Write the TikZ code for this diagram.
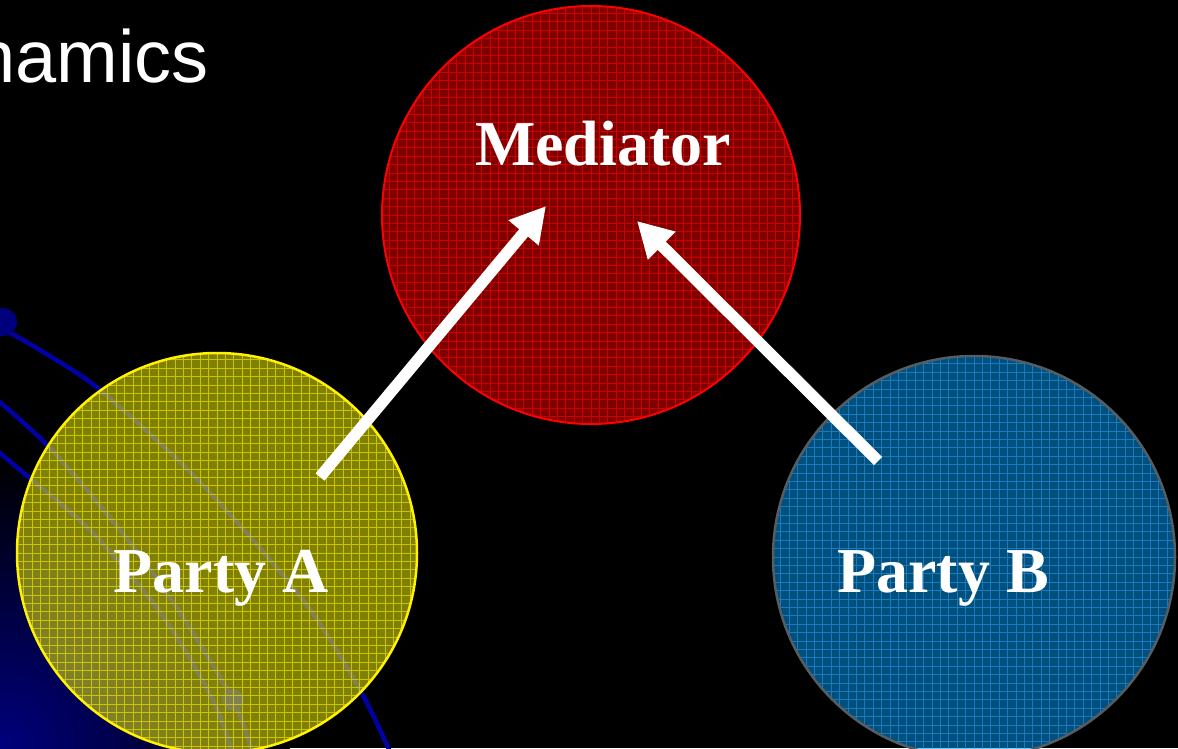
\documentclass[tikz,border=0pt]{standalone}
\usepackage{fontspec}
\setmainfont{Liberation Serif}
\newfontfamily\titlefont{Liberation Sans}
\usetikzlibrary{arrows.meta,positioning}
\definecolor{orbitblue}{RGB}{0,0,165}
\definecolor{navy}{RGB}{0,0,125}
\definecolor{partyAfill}{RGB}{255,255,0}
\definecolor{partyBfill}{RGB}{0,160,250}
\definecolor{partyBgrid}{RGB}{45,150,235}
\definecolor{partyBline}{RGB}{85,92,98}
\definecolor{medfill}{RGB}{255,0,0}

\begin{document}
\begin{tikzpicture}[x=1pt, y=-1pt,
    disc/.style={circle, inner sep=0pt, fill opacity=0.5, text opacity=1},
    gridded/.style={path picture={\draw[#1, line width=0.7pt, draw opacity=0.6]
        ([shift={(-20pt,-20pt)}]path picture bounding box.south west) grid[step=8.4pt]
        ([shift={(20pt,20pt)}]path picture bounding box.north east);}},
    partytext/.style={text=white, inner sep=0pt, anchor=base,
        font=\fontsize{64}{72}\selectfont\bfseries},
    bigarrow/.style={draw=white, line width=11.5pt,
        -{Triangle[width=37pt,length=35pt]}},
    orbit/.style={draw=orbitblue, line width=4.5pt},
  ]
  \useasboundingbox (0,0) rectangle (1178,748);
  \clip (0,0) rectangle (1178,748);

  % Background
  \fill[black] (0,0) rectangle (1178,748);
  \shade[inner color=navy, outer color=black] (0,748) circle[radius=290];

  % Orbits behind party A
  \draw[orbit] plot[smooth] coordinates {(5,330) (40,350) (100,390) (200,482)
    (303,600) (360,690) (390,752)};
  \draw[orbit] plot[smooth] coordinates {(-5,398) (50,448) (120,530) (175,605)
    (233,700) (252,752)};
  \draw[orbit] plot[smooth] coordinates {(-5,449) (32,480) (92,532) (160,612)
    (212,698) (232,752)};
  \fill[navy] (3,322) circle[radius=14];
  \fill[orbitblue] (233,700) circle[radius=11];

  % Circles
  \node[disc, minimum size=418pt, fill=medfill, draw=red, line width=2pt,
    draw opacity=1, gridded=red] (mediator) at (591,215) {};
  \node[disc, minimum size=400pt, fill=partyAfill, draw=yellow, line width=2.5pt,
    draw opacity=1, gridded=yellow] (partyA) at (217,553) {};
  \node[disc, minimum size=402pt, fill=partyBfill, draw=partyBline, line width=2.5pt,
    draw opacity=1, gridded=partyBgrid] (partyB) at (974,557) {};

  % Labels
  \node[partytext] (medlabel) at (603,165) {Mediator};
  \node[partytext] (alabel) at (221,592) {Party A};
  \node[partytext] (blabel) at (943,592) {Party B};
  \node[text=white, inner sep=0pt, anchor=base east,
    font=\titlefont\fontsize{74}{86}\selectfont] (title) at (209,82) {namics};

  % Arrows into the mediator
  \coordinate (tailA) at (320,477);
  \coordinate (tipA) at (546,206);
  \coordinate (tailB) at (878,461);
  \coordinate (tipB) at (637,221);
  \draw[bigarrow] (tailA) -- (tipA);
  \draw[bigarrow] (tailB) -- (tipB);
\end{tikzpicture}
\end{document}
